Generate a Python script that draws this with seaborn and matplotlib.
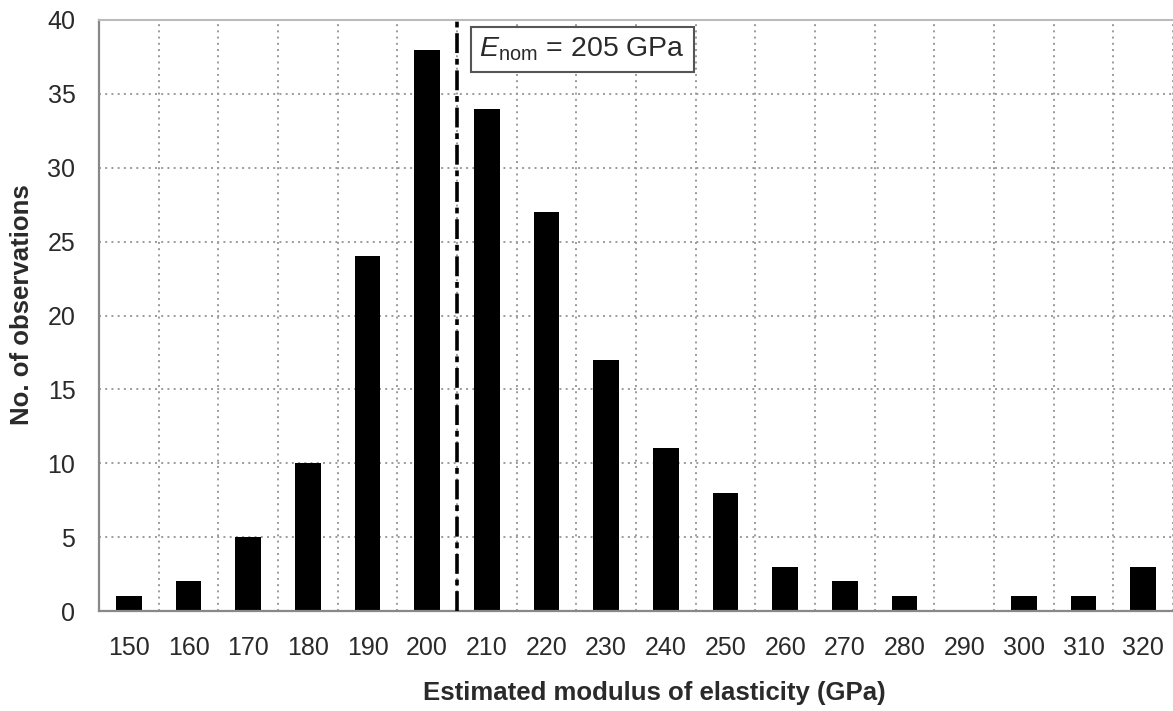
import matplotlib
matplotlib.use("Agg")
import matplotlib.pyplot as plt
import seaborn as sns
import numpy as np
import pandas as pd

categories = ['150', '160', '170', '180', '190', '200', '210', '220', '230',
              '240', '250', '260', '270', '280', '290', '300', '310', '320']
counts = [1, 2, 5, 10, 24, 38, 34, 27, 17, 11, 8, 3, 2, 1, 0, 1, 1, 3]
nominal_label = "$E$$_{\\rm nom}$ = 205 GPa"
nominal_pos = 5.5  # between 200 and 210 (205 GPa)
yticks = [0, 5, 10, 15, 20, 25, 30, 35, 40]

sns.set_theme(style="white")
plt.rcParams['font.family'] = ['Liberation Sans', 'DejaVu Sans']
plt.rcParams['mathtext.fontset'] = 'custom'
plt.rcParams['mathtext.rm'] = 'Liberation Sans'
plt.rcParams['mathtext.it'] = 'Liberation Sans:italic'

df = pd.DataFrame({"cat": categories, "n": counts})

fig = plt.figure(figsize=(11.73, 7.11), dpi=100)
ax = fig.add_axes([0.0844, 0.1406, 0.9156, 0.8313])

sns.barplot(data=df, x="cat", y="n", color="black", saturation=1,
            width=0.43, ax=ax, edgecolor="none")

n = len(categories)
ax.set_xlim(-0.5, n - 0.55)
ax.set_ylim(0, 40)
ax.set_yticks(yticks)

ax.set_xticks(np.arange(n))
ax.set_xticklabels(categories)
ax.set_xticks(np.arange(n + 1) - 0.5, minor=True)
ax.tick_params(axis='x', which='major', length=0, pad=18, labelsize=18,
               labelcolor='#2a2a2a')
ax.tick_params(axis='x', which='minor', length=7, width=1.5, color='#888888',
               direction='out')
ax.tick_params(axis='y', which='major', length=8, width=1.5, color='#888888',
               direction='out', labelsize=18, labelcolor='#2a2a2a', pad=9)

grid_kw = dict(color='#9a9a9a', linestyle=(0, (1, 2.2)), linewidth=1.4)
ax.grid(False)
ax.xaxis.grid(True, which='minor', **grid_kw)
ax.yaxis.grid(True, which='major', **grid_kw)
ax.set_axisbelow(True)

ax.spines['right'].set_visible(False)
ax.spines['top'].set_color('#bbbbbb')
ax.spines['top'].set_linewidth(1.5)
for side in ['left', 'bottom']:
    ax.spines[side].set_color('#888888')
    ax.spines[side].set_linewidth(1.6)

ax.axvline(nominal_pos, color='black', linewidth=2.6,
           linestyle=(0, (5.5, 1.6, 1.6, 1.6)), zorder=3)

ax.text(7.6, 38.0, nominal_label, fontsize=20.5, color='#2a2a2a',
        ha='center', va='center', zorder=4,
        bbox=dict(boxstyle='square,pad=0.3', facecolor='white',
                  edgecolor='#555555', linewidth=1.5))

ax.set_xlabel("Estimated modulus of elasticity (GPa)", fontsize=18.5,
              fontweight='bold', color='#2a2a2a')
ax.set_ylabel("No. of observations", fontsize=18.5, fontweight='bold',
              color='#2a2a2a')
ax.xaxis.set_label_coords(0.517, -0.139)
ax.xaxis.label.set_verticalalignment('center')
ax.yaxis.set_label_coords(-0.0717, 0.519)
ax.yaxis.label.set_verticalalignment('center')

fig.savefig("out.png", dpi=100)
